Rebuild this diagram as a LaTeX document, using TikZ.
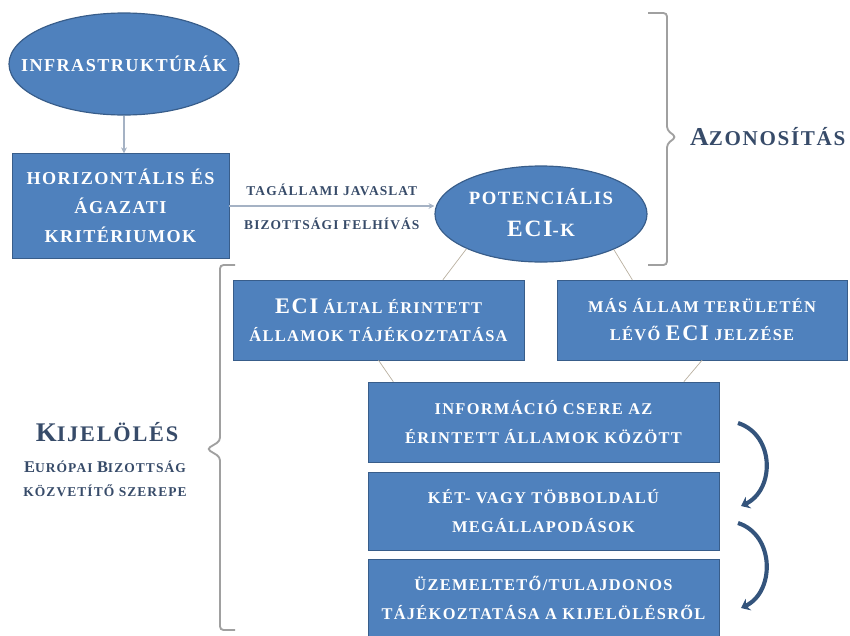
\documentclass[tikz,border=0pt]{standalone}
\usepackage{fontspec}
\setmainfont{Liberation Serif}[LetterSpace=8]
\usetikzlibrary{shapes.geometric,arrows.meta}

\definecolor{kek}{RGB}{79,129,189}
\definecolor{keret}{RGB}{56,93,138}
\definecolor{sotetkek}{RGB}{55,75,105}
\definecolor{halvany}{RGB}{165,178,196}
\definecolor{barna}{RGB}{185,176,160}
\definecolor{ivkek}{RGB}{52,84,124}
\definecolor{szurke}{RGB}{160,160,160}

\newcommand{\nagybetu}[2]{{\fontsize{#1}{#1}\selectfont #2}}

\begin{document}
\begin{tikzpicture}[x=0.03cm, y=-0.03cm,
    doboz/.style ={rectangle, draw=keret, fill=kek, text=white, align=center,
        inner sep=1pt, font=\bfseries\fontsize{14}{24}\selectfont},
    ovalis/.style ={ellipse, draw=keret, line width=1pt, fill=kek, text=white,
        inner sep=0pt},
    felirat/.style ={text=sotetkek, align=center},
    nyil/.style ={draw=halvany, line width=0.9pt, -{Stealth[length=5pt,width=5pt]}},
    vonal/.style ={draw=barna, line width=0.6pt},
    ivnyil/.style ={draw=ivkek, line width=3.5pt, -{Stealth[length=7pt,width=11pt]}},
    kapocs/.style ={draw=szurke, line width=1.6pt, rounded corners=3pt}]
   \useasboundingbox (0,0) rectangle (850,635);

   % azonositas
   \node[ovalis, minimum width=6.9cm, minimum height=3.06cm,
         font=\bfseries\fontsize{15.5}{24}\selectfont] (infra) at (124,64)
         {\makebox[0pt]{INFRASTRUKTÚRÁK}};
   \node[doboz, minimum width=6.51cm, minimum height=3.15cm,
         font=\bfseries\fontsize{15.5}{25}\selectfont] (horiz) at (120.5,206)
         {HORIZONTÁLIS ÉS\\ÁGAZATI\\KRITÉRIUMOK};
   \node[ovalis, minimum width=6.36cm, minimum height=2.88cm,
         font=\bfseries\fontsize{16}{28}\selectfont] (potenc) at (541,214)
         {\makebox[0pt]{\begin{tabular}{@{}c@{}}POTENCIÁLIS\\\nagybetu{20}{ECI}-K\end{tabular}}};

   \draw[nyil] (infra.south) -- (infra.south |- horiz.north);
   \draw[nyil] (horiz.east) -- (horiz.east -| potenc.west)
      node[midway, above=5pt, felirat, font=\bfseries\fontsize{11.5}{14}\selectfont] (tag) {TAGÁLLAMI JAVASLAT}
      node[midway, below=6pt, felirat, font=\bfseries\fontsize{11.5}{14}\selectfont] (biz) {BIZOTTSÁGI FELHÍVÁS};

   % kijeloles
   \node[doboz, minimum width=8.73cm, minimum height=2.4cm] (eci) at (378.5,320)
         {\nagybetu{19}{ECI} ÁLTAL ÉRINTETT\\ÁLLAMOK TÁJÉKOZTATÁSA};
   \node[doboz, minimum width=8.7cm, minimum height=2.4cm] (mas) at (702,320)
         {MÁS ÁLLAM TERÜLETÉN\\LÉVŐ \nagybetu{19}{ECI} JELZÉSE};
   \node[doboz, minimum width=10.53cm, minimum height=2.4cm] (info) at (543.5,422)
         {INFORMÁCIÓ CSERE AZ\\ÉRINTETT ÁLLAMOK KÖZÖTT};
   \node[doboz, minimum width=10.53cm, minimum height=2.34cm] (ket) at (543.5,511)
         {KÉT- VAGY TÖBBOLDALÚ\\MEGÁLLAPODÁSOK};
   \node[doboz, minimum width=10.53cm, minimum height=2.34cm] (uzem) at (543.5,598)
         {ÜZEMELTETŐ/TULAJDONOS\\TÁJÉKOZTATÁSA A KIJELÖLÉSRŐL};

   \draw[vonal] (potenc.205) -- (eci.32);
   \draw[vonal] (potenc.-26) -- (mas.150);
   \draw[vonal] (eci.south) -- (info.165);
   \draw[vonal] (mas.south) -- (info.16);

   % ives nyilak
   \coordinate (i1) at (738,423);
   \coordinate (i2) at (741,506);
   \coordinate (i3) at (738,523);
   \coordinate (i4) at (741,608);
   \draw[ivnyil] (i1) .. controls (775,435) and (775,490) .. (i2);
   \draw[ivnyil] (i3) .. controls (775,535) and (775,592) .. (i4);

   % kapcsos zarojelek
   \draw[kapocs] (648,13) -- (667,13) -- (667,130) -- (676,137) -- (667,144)
      -- (667,265) -- (648,265);
   \draw[kapocs] (235,265) -- (220,265) -- (220,441) -- (207,449) -- (220,457)
      -- (220,630) -- (235,630);

   \node[felirat, anchor=west, font=\bfseries\fontsize{18}{20}\selectfont] (azon) at (686,137)
         {\nagybetu{22}{A}ZONOSÍTÁS};
   \node[felirat, font=\bfseries\fontsize{19}{22}\selectfont] (kijel) at (107,432)
         {\nagybetu{23}{K}IJELÖLÉS};
   \node[felirat, font=\bfseries\fontsize{11.5}{20}\selectfont] (bizott) at (105,479)
         {\nagybetu{14}{E}URÓPAI \nagybetu{14}{B}IZOTTSÁG\\KÖZVETÍTŐ SZEREPE};
\end{tikzpicture}
\end{document}
